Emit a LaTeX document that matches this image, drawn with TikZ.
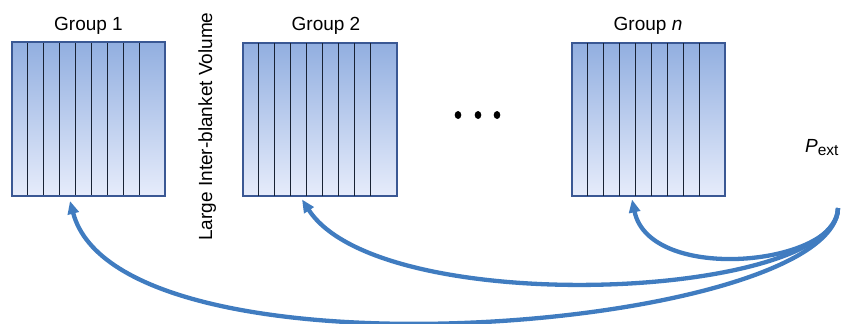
\documentclass[tikz,border=0pt]{standalone}
\usepackage{fontspec}
\setmainfont{Liberation Sans}
\usetikzlibrary{arrows.meta,calc}

\definecolor{stripetop}{RGB}{146,175,224}
\definecolor{stripebot}{RGB}{230,236,251}
\definecolor{frameblue}{RGB}{58,88,148}
\definecolor{stripeline}{RGB}{24,34,52}
\definecolor{linkblue}{RGB}{64,124,192}

\tikzset{
  blanket/.style={minimum width=153pt, minimum height=152.5pt, inner sep=0pt,
    top color=stripetop, bottom color=stripebot, draw=frameblue, line width=1.4pt},
  grouplabel/.style={anchor=base, inner sep=0pt, font=\fontsize{19}{23}\selectfont},
  link/.style={draw=linkblue, line width=4.3pt,
    -{Triangle[length=13pt,width=11pt]}},
  dot/.style={fill=black, draw=none}
}

\begin{document}
\begin{tikzpicture}[x=1pt, y=-1pt]
  \useasboundingbox (0,0) rectangle (841,324);

  % blanket groups
  \node[blanket] (g1) at (88.5,119) {};
  \node[blanket] (g2) at (320,119.5) {};
  \node[blanket] (gn) at (648.5,119.5) {};

  % vertical divisions inside each group
  \foreach \g in {g1,g2,gn}{
    \foreach \i in {1,...,8}{
      \draw[stripeline, line width=1.2pt]
        ($(\g.north west)+(16*\i,0)$) -- ($(\g.south west)+(16*\i,0)$);
    }
    \draw[frameblue, line width=1.4pt] (\g.north west) rectangle (\g.south east);
  }

  % labels
  \node[grouplabel] (l1) at (88.5,30) {Group 1};
  \node[grouplabel] (l2) at (326,30) {Group 2};
  \node[grouplabel] (ln) at (648,30) {Group \textit{n}};
  \node[grouplabel, rotate=90] (vol) at (212,126.5) {Large Inter-blanket Volume};
  \node[anchor=base west, inner sep=0pt, font=\fontsize{19}{23}\selectfont] (pext)
    at (805,152) {\textit{P}\raisebox{-0.32ex}{\fontsize{15.5}{16}\selectfont ext}};

  % ellipsis between groups
  \fill[dot] (458,115) ellipse (3.3pt and 4pt);
  \fill[dot] (478,115) ellipse (3.3pt and 4pt);
  \fill[dot] (497,115) ellipse (3.3pt and 4pt);

  % flow from the external pressure source back to each group
  \coordinate (src) at (838,208);
  \coordinate (t1) at ($(g1.south)+(-18.5,5)$);
  \coordinate (t2) at ($(g2.south)+(-18,3)$);
  \coordinate (tn) at ($(gn.south)+(-16.5,3)$);

  \draw[link] (src) .. controls (840,265) and (650,285) .. (tn);
  \draw[link] (src) .. controls (835,300) and (380,320) .. (t2);
  \draw[link] (src) .. controls (835,330) and (120,390) .. (t1);
\end{tikzpicture}
\end{document}
